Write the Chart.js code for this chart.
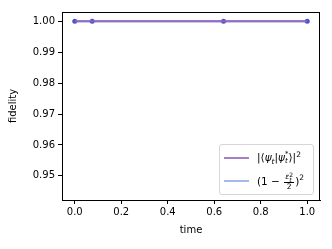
<!DOCTYPE html>
<html>
<head>
<meta charset="utf-8">
<script src="https://cdn.jsdelivr.net/npm/chart.js@4.4.1/dist/chart.umd.min.js"></script>
<style>
    body { margin: 0; background: #fff; }
    #wrap { position: relative; width: 332px; height: 249px; }
    .legend {
        position: absolute; left: 219px; top: 144px; width: 93px; height: 49px;
        border: 1px solid #d6d6d6; border-radius: 3px; background: rgba(255,255,255,0.8);
        font-family: "DejaVu Sans", sans-serif; font-size: 10.5px; color: #000;
    }
    .row { position: absolute; left: 4px; height: 22px; display: flex; align-items: center; }
    .swatch { width: 25px; height: 2px; margin-right: 8px; }
    .m { white-space: nowrap; }
    .m i { font-style: italic; }
    .m sub, .m sup { font-size: 7.5px; line-height: 0; }
    .ss { display: inline-flex; flex-direction: column; vertical-align: middle;
          font-size: 7px; line-height: 7px; }
    .frac { display: inline-flex; flex-direction: column; align-items: center; vertical-align: middle;
            font-size: 7.5px; line-height: 8px; margin: 0 1px; }
    .frac .num { border-bottom: 0.8px solid #000; padding: 0 1px; }
</style>
</head>
<body>
<div id="wrap">
    <canvas id="chart" width="332" height="249"></canvas>
    <div class="legend">
        <div class="row" style="top:2px">
            <div class="swatch" style="background:#a47fc6"></div>
            <span class="m">|⟨<i>ψ</i><sub><i>t</i></sub>|<i>ψ</i><span class="ss"><i>*</i><i>t</i></span>⟩|<sup>2</sup></span>
        </div>
        <div class="row" style="top:25px">
            <div class="swatch" style="background:#a3baf0"></div>
            <span class="m">(1 − <span class="frac"><span class="num"><i>ε</i><span class="ss" style="font-size:6px;line-height:5px"><span>2</span><i>t</i></span></span><span>2</span></span>)<sup>2</sup></span>
        </div>
    </div>
</div>
<script>
// Data
const times = [0, 0.075, 0.64, 1.0];
const overlapFidelity = [1.0, 1.0, 1.0, 1.0];
const approxFidelity = [1.0, 1.0, 1.0, 1.0];
const xTicks = [0.0, 0.2, 0.4, 0.6, 0.8, 1.0];
const yTicks = [0.95, 0.96, 0.97, 0.98, 0.99, 1.00];

const toPoints = (ys) => times.map((t, i) => ({ x: t, y: ys[i] }));

// draws the full box around the axes like matplotlib spines
const frame = {
    id: 'frame',
    afterDraw(chart) {
        const { ctx, chartArea: a } = chart;
        ctx.save();
        ctx.strokeStyle = '#000';
        ctx.lineWidth = 1;
        ctx.strokeRect(a.left + 0.5, a.top + 0.5, a.right - a.left - 1, a.bottom - a.top);
        ctx.restore();
    }
};

const font = { family: 'DejaVu Sans', size: 10 };

new Chart(document.getElementById('chart'), {
    type: 'line',
    data: {
        datasets: [
            {
                label: 'overlap',
                data: toPoints(overlapFidelity),
                borderColor: 'rgba(148,103,189,0.85)',
                borderWidth: 2,
                pointRadius: 0
            },
            {
                label: 'approx',
                data: toPoints(approxFidelity),
                borderColor: 'rgba(80,95,215,0.75)',
                borderWidth: 2,
                pointRadius: 2.5,
                pointBackgroundColor: '#4652cf',
                pointBorderWidth: 0
            }
        ]
    },
    options: {
        responsive: false,
        animation: false,
        layout: { padding: { top: 12, right: 12, left: 7, bottom: 13 } },
        plugins: { legend: { display: false }, tooltip: { enabled: false } },
        scales: {
            x: {
                type: 'linear',
                min: -0.055,
                max: 1.055,
                afterBuildTicks: (s) => { s.ticks = xTicks.map(v => ({ value: v })); },
                afterFit: (s) => { s.height = 36; },
                ticks: { font, color: '#000', padding: 2, maxRotation: 0, callback: (v) => v.toFixed(1) },
                grid: { drawOnChartArea: false, tickLength: 4, color: '#000' },
                border: { color: '#000' },
                title: { display: true, text: 'time', font, color: '#000', padding: { top: 1, bottom: 0 } }
            },
            y: {
                min: 0.9422,
                max: 1.003,
                afterBuildTicks: (s) => { s.ticks = yTicks.map(v => ({ value: v })); },
                afterFit: (s) => { s.width = 55; },
                ticks: { font, color: '#000', padding: 3, callback: (v) => v.toFixed(2) },
                grid: { drawOnChartArea: false, tickLength: 4, color: '#000' },
                border: { color: '#000' },
                title: { display: true, text: 'fidelity', font, color: '#000', padding: { top: 0, bottom: 2 } }
            }
        }
    },
    plugins: [frame]
});
</script>
</body>
</html>
